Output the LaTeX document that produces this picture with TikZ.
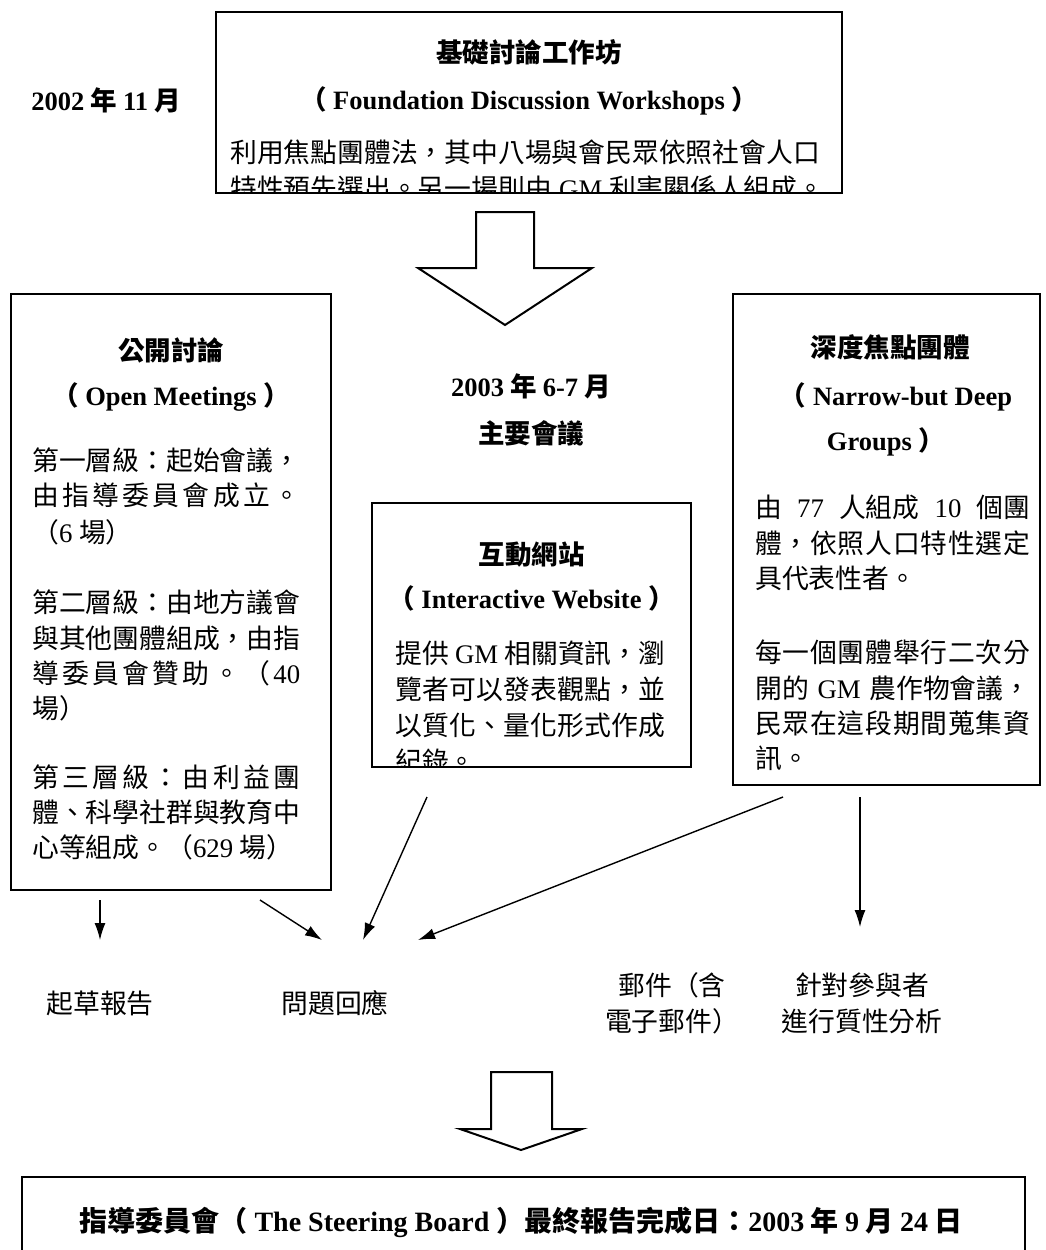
\documentclass[tikz,border=0pt]{standalone}
\usepackage{fontspec}
\setmainfont{Noto Sans CJK TC}
\newfontfamily\lat{Liberation Serif}
\usetikzlibrary{arrows.meta}
\newcommand\tn[1]{{\lat #1}}
\makeatletter
\def\spreadchars#1{\def\sp@first{1}\@tfor\sp@c:=#1\do{\ifx\sp@first\@empty\hfil\fi\def\sp@first{}\sp@c}}
\makeatother
\newcommand\jline[2]{\hbox to #1{\spreadchars{#2}}}
\newcommand\sline[2]{\hbox to #1{#2}}
\tikzset{
  box/.style={draw, line width=2.4pt, inner sep=0pt},
  head/.style={inner sep=0pt, font=\fontsize{26.5}{32}\selectfont\bfseries},
  body/.style={anchor=west, inner sep=0pt, font=\fontsize{26.8}{35.5}\selectfont},
  lab/.style={inner sep=0pt, align=center, font=\fontsize{26.8}{36}\selectfont},
  arr/.style={line width=1.4pt, -{Latex[length=17pt,width=11pt]}},
  blockarrow/.style={draw, line width=2pt, line join=miter, fill=white},
}
\begin{document}
\begin{tikzpicture}[x=1pt,y=-1pt]
\useasboundingbox (0,0) rectangle (1046,1250);
\fill[white] (0,0) rectangle (1046,1250);

% ---- top
\node[head] (d2002) at (106,100) {\tn{2002} 年 \tn{11} 月};
\node[box, minimum width=626pt, minimum height=181pt] (topbox) at (529,102.5) {};
\node[head] (t1) at (529,52) {基礎討論工作坊};
\node[head] (t2) at (529,101) {（\tn{ Foundation Discussion Workshops }）};
\node[body] (t3) at (230,152) {利用焦點團體法，其中八場與會民眾依照社會人口};
\begin{scope}
  \clip (216,12) rectangle (842,191);
  \node[body] (t4) at (230,188) {\sline{594pt}{特性預先選出。另一場則由 \tn{GM} 利害關係人組成。}};
\end{scope}

% ---- block arrow 1
\draw[blockarrow] (476,212) -- (534,212) -- (534,268) -- (592,268) -- (505,325) -- (418,268) -- (476,268) -- cycle;

% ---- middle titles
\node[head] (d2003) at (531,386) {\tn{2003} 年 \tn{6-7} 月};
\node[head] (main) at (531,433) {主要會議};

% ---- left box
\node[box, minimum width=320pt, minimum height=596pt] (leftbox) at (171,592) {};
\node[head] (l1) at (171,350) {公開討論};
\node[head] (l2) at (171,397) {（\tn{ Open Meetings }）};
\node[body] (l3) at (32,460) {\jline{268pt}{第一層級：起始會議，}};
\node[body] (l4) at (32,495) {\jline{268pt}{由指導委員會成立。}};
\node[body] (l5) at (32,532) {（\tn{6 }場）};
\node[body] (l6) at (32,602) {\jline{268pt}{第二層級：由地方議會}};
\node[body] (l7) at (32,638) {\jline{268pt}{與其他團體組成，由指}};
\node[body] (l8) at (32,673) {\jline{268pt}{導委員會贊助。（{\tn{40}}}};
\node[body] (l9) at (32,708) {場）};
\node[body] (l10) at (32,777) {\jline{268pt}{第三層級：由利益團}};
\node[body] (l11) at (32,812) {\jline{268pt}{體、科學社群與教育中}};
\node[body] (l12) at (32,847) {心等組成。（\tn{629 }場）};

% ---- website box
\node[box, minimum width=319pt, minimum height=264pt] (webbox) at (531.5,635) {};
\node[head] (w1) at (531.5,555) {互動網站};
\node[head] (w2) at (531.5,598) {（\tn{ Interactive Website }）};
\node[body] (w3) at (395,653) {\sline{270pt}{提供\tn{ GM }相關資訊，瀏}};
\node[body] (w4) at (395,689) {\jline{270pt}{覽者可以發表觀點，並}};
\node[body] (w5) at (395,725) {\jline{270pt}{以質化、量化形式作成}};
\begin{scope}
  \clip (372,503) rectangle (691,766);
  \node[body] (w6) at (395,761) {紀錄。};
\end{scope}

% ---- right box
\node[box, minimum width=307pt, minimum height=491pt] (rightbox) at (886.5,539.5) {};
\node[head] (r1) at (890,347) {深度焦點團體};
\node[head] (r2) at (896,397) {（\tn{ Narrow-but Deep}};
\node[head] (r3) at (886,442) {\tn{Groups }）};
\node[body] (r4) at (755,507) {\sline{275pt}{由\tn{ 77 }人組成\tn{ 10 }個團}};
\node[body] (r5) at (755,543) {\jline{275pt}{體，依照人口特性選定}};
\node[body] (r6) at (755,578) {具代表性者。};
\node[body] (r7) at (755,652) {\jline{275pt}{每一個團體舉行二次分}};
\node[body] (r8) at (755,688) {\sline{275pt}{開的\tn{ GM }農作物會議，}};
\node[body] (r9) at (755,723) {\jline{275pt}{民眾在這段期間蒐集資}};
\node[body] (r10) at (755,758) {訊。};

% ---- labels
\node[lab] (draft) at (100,1003) {起草報告};
\node[lab] (resp) at (335,1003) {問題回應};
\node[lab] (mail) at (672,1003) {郵件（含\\電子郵件）};
\node[lab] (qual) at (862,1003) {針對參與者\\進行質性分析};

% ---- connectors
\coordinate (a1s) at (100,900);  \coordinate (a1e) at (100,940);
\coordinate (a2s) at (260,900);  \coordinate (a2e) at (322,940);
\coordinate (a3s) at (427,797);  \coordinate (a3e) at (363,940);
\coordinate (a4s) at (783,797);  \coordinate (a4e) at (418,940);
\coordinate (a5s) at (860,797);  \coordinate (a5e) at (860,927);
\draw[arr] (a1s) -- (a1e);
\draw[arr] (a2s) -- (a2e);
\draw[arr] (a3s) -- (a3e);
\draw[arr] (a4s) -- (a4e);
\draw[arr] (a5s) -- (a5e);

% ---- block arrow 2
\draw[blockarrow] (491,1072) -- (552,1072) -- (552,1129) -- (582,1129) -- (521,1150) -- (460,1129) -- (491,1129) -- cycle;

% ---- bottom box
\node[box, minimum width=1003pt, minimum height=100pt] (botbox) at (523.5,1227) {};
\node[head, font=\fontsize{28}{34}\selectfont\bfseries] (final) at (521,1222) {指導委員會（\tn{ The Steering Board }）最終報告完成日：\tn{2003} 年 \tn{9} 月 \tn{24} 日};
\end{tikzpicture}
\end{document}
